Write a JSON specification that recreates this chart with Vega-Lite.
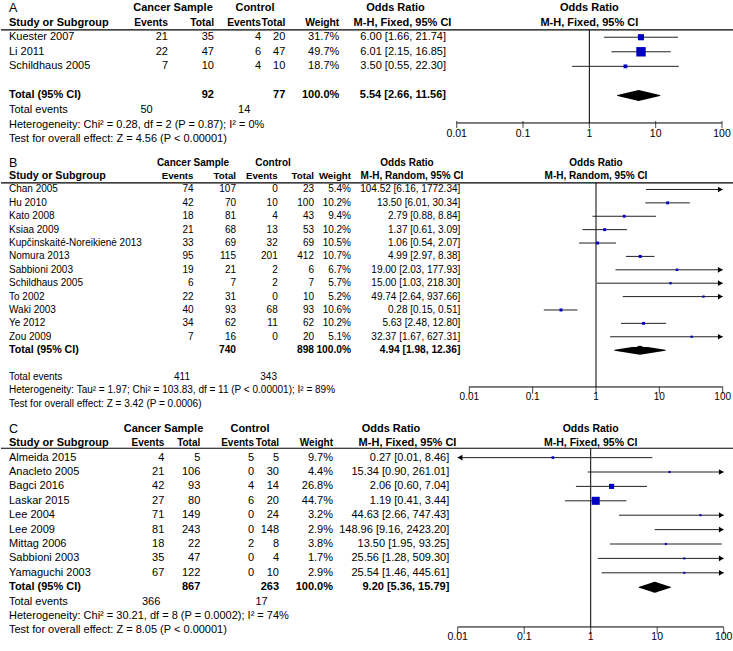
{
"$schema":"https://vega.github.io/schema/vega-lite/v6.json",
"padding":0,
"background":"white",
"spacing":0,
"config":{"view":{"stroke":null},"text":{"font":"Liberation Sans","fontSize":11,"color":"#000","baseline":"middle"}},
"resolve":{"scale":{"x":"independent","y":"independent","size":"independent"}},
"vconcat":[
{
"width":733,"height":150,
"data":{"values":[
{"line":"h1","study":"A","cs":"Cancer Sample","ct":"Control","orh1":"Odds Ratio","ph":"Odds Ratio"},
{"line":"h2","study":"Study or Subgroup","e1":"Events","n1":"Total","e2":"Events","n2":"Total","wt":"Weight","orh2":"M-H, Fixed, 95% CI","ph":"M-H, Fixed, 95% CI"},
{"study":"Kuester 2007","e1":21,"n1":35,"e2":4,"n2":20,"w":31.7,"or":6.00,"lo":1.66,"hi":21.74},
{"study":"Li 2011","e1":22,"n1":47,"e2":6,"n2":47,"w":49.7,"or":6.01,"lo":2.15,"hi":16.85},
{"study":"Schildhaus 2005","e1":7,"n1":10,"e2":4,"n2":10,"w":18.7,"or":3.50,"lo":0.55,"hi":22.30},
{"study":"Total (95% CI)","n1":92,"n2":77,"w":100,"or":5.54,"lo":2.66,"hi":11.56},
{"study":"Total events","te1":50,"te2":14},
{"line":"Het","study":"Heterogeneity: Chi² = 0.28, df = 2 (P = 0.87); I² = 0%"},
{"line":"Test","study":"Test for overall effect: Z = 4.56 (P < 0.00001)"}
]},
"transform":[
{"calculate":"isValid(datum.line) ? datum.line : datum.study","as":"key"},
{"calculate":"isValid(datum.w) ? format(datum.w,'.1f') + '%' : datum.wt","as":"wt"},
{"calculate":"isValid(datum.or) ? format(datum.or,'.2f') + ' [' + format(datum.lo,'.2f') + ', ' + format(datum.hi,'.2f') + ']' : null","as":"ortxt"}
],
"encoding":{"y":{"field":"key","type":"nominal","axis":null,"scale":{"type":"band","domain":["h1","h2","Kuester 2007","Li 2011","Schildhaus 2005","gap","Total (95% CI)","Total events","Het","Test"],"range":[0.82,146.42],"paddingInner":0,"paddingOuter":0}}},
"layer":[
{"layer":[
{"transform":[{"filter":"datum.key != 'h1' && datum.key != 'h2' && datum.key != 'Total (95% CI)'"}],"mark":{"type":"text","align":"left"},"encoding":{"x":{"datum":0,"type":"quantitative","axis":null,"scale":{"domain":[0,1,2,3,4,5,6,7,8,9,10,11,12],"range":[8,167,213,260,284.3,338.3,445,151.7,249.3,172,254,394.5,401.5],"nice":false,"zero":false}},"text":{"field":"study","type":"nominal"}}},
{"transform":[{"filter":"datum.key == 'h2' || datum.key == 'Total (95% CI)'"}],"mark":{"type":"text","align":"left","fontWeight":"bold"},"encoding":{"x":{"datum":0,"type":"quantitative","axis":null,"scale":{"domain":[0,1,2,3,4,5,6,7,8,9,10,11,12],"range":[8,167,213,260,284.3,338.3,445,151.7,249.3,172,254,394.5,401.5],"nice":false,"zero":false}},"text":{"field":"study","type":"nominal"}}},
{"transform":[{"filter":"datum.key == 'h1'"}],"mark":{"type":"text","align":"left","fontSize":12.5},"encoding":{"x":{"datum":0,"type":"quantitative","axis":null,"scale":{"domain":[0,1,2,3,4,5,6,7,8,9,10,11,12],"range":[8,167,213,260,284.3,338.3,445,151.7,249.3,172,254,394.5,401.5],"nice":false,"zero":false}},"text":{"field":"study","type":"nominal"}}},
{"transform":[{"fold":["e1","n1","e2","n2","wt","ortxt","te1","te2"],"as":["col","val"]},{"filter":"isValid(datum.val) && datum.key != 'h2' && datum.key != 'Total (95% CI)'"},{"calculate":"indexof(['study','e1','n1','e2','n2','wt','ortxt','te1','te2','cs','ct','orh1','orh2'], datum.col)","as":"ci"}],"mark":{"type":"text","align":"right"},"encoding":{"x":{"field":"ci","type":"quantitative","axis":null,"scale":{"domain":[0,1,2,3,4,5,6,7,8,9,10,11,12],"range":[8,167,213,260,284.3,338.3,445,151.7,249.3,172,254,394.5,401.5],"nice":false,"zero":false}},"text":{"field":"val","type":"nominal"}}},
{"transform":[{"fold":["e1","n1","e2","n2","wt","ortxt","te1","te2"],"as":["col","val"]},{"filter":"isValid(datum.val) && datum.key == 'h2'"},{"calculate":"indexof(['study','e1','n1','e2','n2','wt','ortxt','te1','te2','cs','ct','orh1','orh2'], datum.col)","as":"ci"}],"mark":{"type":"text","align":"right","fontWeight":"bold","fontSize":10.3},"encoding":{"x":{"field":"ci","type":"quantitative","axis":null,"scale":{"domain":[0,1,2,3,4,5,6,7,8,9,10,11,12],"range":[8,167,213,260,284.3,338.3,445,151.7,249.3,172,254,394.5,401.5],"nice":false,"zero":false}},"text":{"field":"val","type":"nominal"}}},
{"transform":[{"fold":["e1","n1","e2","n2","wt","ortxt","te1","te2"],"as":["col","val"]},{"filter":"isValid(datum.val) && datum.key == 'Total (95% CI)'"},{"calculate":"indexof(['study','e1','n1','e2','n2','wt','ortxt','te1','te2','cs','ct','orh1','orh2'], datum.col)","as":"ci"}],"mark":{"type":"text","align":"right","fontWeight":"bold"},"encoding":{"x":{"field":"ci","type":"quantitative","axis":null,"scale":{"domain":[0,1,2,3,4,5,6,7,8,9,10,11,12],"range":[8,167,213,260,284.3,338.3,445,151.7,249.3,172,254,394.5,401.5],"nice":false,"zero":false}},"text":{"field":"val","type":"nominal"}}},
{"transform":[{"fold":["cs","ct","orh1","orh2"],"as":["col","val"]},{"filter":"isValid(datum.val)"},{"calculate":"indexof(['study','e1','n1','e2','n2','wt','ortxt','te1','te2','cs','ct','orh1','orh2'], datum.col)","as":"ci"}],"mark":{"type":"text","align":"center","fontWeight":"bold"},"encoding":{"x":{"field":"ci","type":"quantitative","axis":null,"scale":{"domain":[0,1,2,3,4,5,6,7,8,9,10,11,12],"range":[8,167,213,260,284.3,338.3,445,151.7,249.3,172,254,394.5,401.5],"nice":false,"zero":false}},"text":{"field":"val","type":"nominal"}}}
]},
{"layer":[
{"data":{"values":[{}]},"mark":{"type":"rule","color":"#000","strokeWidth":1.2},"encoding":{"y":{"datum":"Kuester 2007","type":"nominal","bandPosition":0,"scale":{"type":"band","domain":["h1","h2","Kuester 2007","Li 2011","Schildhaus 2005","gap","Total (95% CI)","Total events","Het","Test"],"range":[0.82,146.42],"paddingInner":0,"paddingOuter":0}}}},
{"data":{"values":[{}]},"mark":{"type":"rule","color":"#000"},"encoding":{"x":{"datum":1,"type":"quantitative","axis":null,"scale":{"type":"log","domain":[0.01,100],"range":[455.7,721],"clamp":true,"nice":false}},"y":{"datum":"Kuester 2007","type":"nominal","bandPosition":0,"scale":{"type":"band","domain":["h1","h2","Kuester 2007","Li 2011","Schildhaus 2005","gap","Total (95% CI)","Total events","Het","Test"],"range":[0.82,146.42],"paddingInner":0,"paddingOuter":0}},"y2":{"datum":"Het","bandPosition":0.39}}},
{"data":{"values":[{}]},"mark":{"type":"rule","color":"#000"},"encoding":{"x":{"datum":0.01,"type":"quantitative","axis":null,"scale":{"type":"log","domain":[0.01,100],"range":[455.7,721],"clamp":true,"nice":false}},"x2":{"datum":100},"y":{"datum":"Het","type":"nominal","bandPosition":0.39,"scale":{"type":"band","domain":["h1","h2","Kuester 2007","Li 2011","Schildhaus 2005","gap","Total (95% CI)","Total events","Het","Test"],"range":[0.82,146.42],"paddingInner":0,"paddingOuter":0}}}},
{"data":{"values":[{"v":0.01},{"v":0.1},{"v":1},{"v":10},{"v":100}]},"mark":{"type":"tick","size":7,"thickness":1,"color":"#000","orient":"vertical"},"encoding":{"x":{"field":"v","type":"quantitative","axis":null,"scale":{"type":"log","domain":[0.01,100],"range":[455.7,721],"clamp":true,"nice":false}},"y":{"datum":"Het","type":"nominal","bandPosition":0.39,"scale":{"type":"band","domain":["h1","h2","Kuester 2007","Li 2011","Schildhaus 2005","gap","Total (95% CI)","Total events","Het","Test"],"range":[0.82,146.42],"paddingInner":0,"paddingOuter":0}}}},
{"data":{"values":[{"v":0.01},{"v":0.1},{"v":1},{"v":10},{"v":100}]},"mark":{"type":"text","align":"center","dy":9,"fontSize":10.5},"encoding":{"x":{"field":"v","type":"quantitative","axis":null,"scale":{"type":"log","domain":[0.01,100],"range":[455.7,721],"clamp":true,"nice":false}},"y":{"datum":"Het","type":"nominal","scale":{"type":"band","domain":["h1","h2","Kuester 2007","Li 2011","Schildhaus 2005","gap","Total (95% CI)","Total events","Het","Test"],"range":[0.82,146.42],"paddingInner":0,"paddingOuter":0}},"text":{"field":"v","type":"quantitative","format":"~g"}}},
{"transform":[{"filter":"isValid(datum.ph)"}],"mark":{"type":"text","align":"center","fontWeight":"bold"},"encoding":{"x":{"datum":1,"type":"quantitative","axis":null,"scale":{"type":"log","domain":[0.01,100],"range":[455.7,721],"clamp":true,"nice":false}},"text":{"field":"ph","type":"nominal"}}},
{"transform":[{"filter":"isValid(datum.or) && datum.key != 'Total (95% CI)'"}],"mark":{"type":"rule","color":"#222"},"encoding":{"x":{"field":"lo","type":"quantitative","axis":null,"scale":{"type":"log","domain":[0.01,100],"range":[455.7,721],"clamp":true,"nice":false}},"x2":{"field":"hi"}}},
{"transform":[{"filter":"isValid(datum.or) && datum.or <= 100 && datum.key != 'Total (95% CI)'"}],"mark":{"type":"point","shape":"square","filled":true,"color":"#0000c0","opacity":1},"encoding":{"x":{"field":"or","type":"quantitative","axis":null,"scale":{"type":"log","domain":[0.01,100],"range":[455.7,721],"clamp":true,"nice":false}},"size":{"field":"w","type":"quantitative","legend":null,"scale":{"type":"pow","exponent":2,"domain":[0,50],"range":[2,90]}}}},
{"transform":[{"filter":"isValid(datum.hi) && datum.hi > 100 && datum.key != 'Total (95% CI)'"}],"mark":{"type":"point","shape":"M-1,-0.6L0,0L-1,0.6Z","filled":true,"color":"#000","opacity":1,"size":90},"encoding":{"x":{"field":"hi","type":"quantitative","axis":null,"scale":{"type":"log","domain":[0.01,100],"range":[455.7,721],"clamp":true,"nice":false}}}},
{"transform":[{"filter":"isValid(datum.lo) && datum.lo <= 0.01 && datum.key != 'Total (95% CI)'"}],"mark":{"type":"point","shape":"M1,-0.6L0,0L1,0.6Z","filled":true,"color":"#000","opacity":1,"size":90},"encoding":{"x":{"field":"lo","type":"quantitative","axis":null,"scale":{"type":"log","domain":[0.01,100],"range":[455.7,721],"clamp":true,"nice":false}}}},
{"transform":[{"filter":"datum.key == 'Total (95% CI)'"},{"fold":["lo","or","hi"],"as":["pt","xv"]}],"mark":{"type":"trail","color":"#000"},"encoding":{"x":{"field":"xv","type":"quantitative","axis":null,"scale":{"type":"log","domain":[0.01,100],"range":[455.7,721],"clamp":true,"nice":false}},"size":{"condition":{"test":"datum.pt == 'or'","value":11},"value":0}}}
]}
],
"resolve":{"scale":{"x":"independent"}}
},
{
"width":733,"height":262,
"data":{"values":[
{"line":"h1","study":"B","cs":"Cancer Sample","ct":"Control","orh1":"Odds Ratio","ph":"Odds Ratio"},
{"line":"h2","study":"Study or Subgroup","e1":"Events","n1":"Total","e2":"Events","n2":"Total","wt":"Weight","orh2":"M-H, Random, 95% CI","ph":"M-H, Random, 95% CI"},
{"study":"Chan 2005","e1":74,"n1":107,"e2":0,"n2":23,"w":5.4,"or":104.52,"lo":6.16,"hi":1772.34},
{"study":"Hu 2010","e1":42,"n1":70,"e2":10,"n2":100,"w":10.2,"or":13.50,"lo":6.01,"hi":30.34},
{"study":"Kato 2008","e1":18,"n1":81,"e2":4,"n2":43,"w":9.4,"or":2.79,"lo":0.88,"hi":8.84},
{"study":"Ksiaa 2009","e1":21,"n1":68,"e2":13,"n2":53,"w":10.2,"or":1.37,"lo":0.61,"hi":3.09},
{"study":"Kupčinskaité-Noreikienė 2013","e1":33,"n1":69,"e2":32,"n2":69,"w":10.5,"or":1.06,"lo":0.54,"hi":2.07},
{"study":"Nomura 2013","e1":95,"n1":115,"e2":201,"n2":412,"w":10.7,"or":4.99,"lo":2.97,"hi":8.38},
{"study":"Sabbioni 2003","e1":19,"n1":21,"e2":2,"n2":6,"w":6.7,"or":19.00,"lo":2.03,"hi":177.93},
{"study":"Schildhaus 2005","e1":6,"n1":7,"e2":2,"n2":7,"w":5.7,"or":15.00,"lo":1.03,"hi":218.30},
{"study":"To 2002","e1":22,"n1":31,"e2":0,"n2":10,"w":5.2,"or":49.74,"lo":2.64,"hi":937.66},
{"study":"Waki 2003","e1":40,"n1":93,"e2":68,"n2":93,"w":10.6,"or":0.28,"lo":0.15,"hi":0.51},
{"study":"Ye 2012","e1":34,"n1":62,"e2":11,"n2":62,"w":10.2,"or":5.63,"lo":2.48,"hi":12.80},
{"study":"Zou 2009","e1":7,"n1":16,"e2":0,"n2":20,"w":5.1,"or":32.37,"lo":1.67,"hi":627.31},
{"study":"Total (95% CI)","n1":740,"n2":898,"w":100,"or":4.94,"lo":1.98,"hi":12.36},
{"study":"Total events","te1":411,"te2":343},
{"line":"Het","study":"Heterogeneity: Tau² = 1.97; Chi² = 103.83, df = 11 (P < 0.00001); I² = 89%"},
{"line":"Test","study":"Test for overall effect: Z = 3.42 (P = 0.0006)"}
]},
"transform":[
{"calculate":"isValid(datum.line) ? datum.line : datum.study","as":"key"},
{"calculate":"isValid(datum.w) ? format(datum.w,'.1f') + '%' : datum.wt","as":"wt"},
{"calculate":"isValid(datum.or) ? format(datum.or,'.2f') + ' [' + format(datum.lo,'.2f') + ', ' + format(datum.hi,'.2f') + ']' : null","as":"ortxt"}
],
"encoding":{"y":{"field":"key","type":"nominal","axis":null,"scale":{"type":"band","domain":["h1","h2","Chan 2005","Hu 2010","Kato 2008","Ksiaa 2009","Kupčinskaité-Noreikienė 2013","Nomura 2013","Sabbioni 2003","Schildhaus 2005","To 2002","Waki 2003","Ye 2012","Zou 2009","Total (95% CI)","gap","Total events","Het","Test"],"range":[6.0,260.4],"paddingInner":0,"paddingOuter":0}}},
"layer":[
{"layer":[
{"transform":[{"filter":"datum.key != 'h1' && datum.key != 'h2' && datum.key != 'Total (95% CI)'"}],"mark":{"type":"text","align":"left","fontSize":10},"encoding":{"x":{"datum":0,"type":"quantitative","axis":null,"scale":{"domain":[0,1,2,3,4,5,6,7,8,9,10,11,12],"range":[8,192.5,235,276.7,313,350,459.3,189,276,192,272,406,411],"nice":false,"zero":false}},"text":{"field":"study","type":"nominal"}}},
{"transform":[{"filter":"datum.key == 'h2' || datum.key == 'Total (95% CI)'"}],"mark":{"type":"text","align":"left","fontWeight":"bold","fontSize":10.7},"encoding":{"x":{"datum":0,"type":"quantitative","axis":null,"scale":{"domain":[0,1,2,3,4,5,6,7,8,9,10,11,12],"range":[8,192.5,235,276.7,313,350,459.3,189,276,192,272,406,411],"nice":false,"zero":false}},"text":{"field":"study","type":"nominal"}}},
{"transform":[{"filter":"datum.key == 'h1'"}],"mark":{"type":"text","align":"left","fontSize":12.5},"encoding":{"x":{"datum":0,"type":"quantitative","axis":null,"scale":{"domain":[0,1,2,3,4,5,6,7,8,9,10,11,12],"range":[8,192.5,235,276.7,313,350,459.3,189,276,192,272,406,411],"nice":false,"zero":false}},"text":{"field":"study","type":"nominal"}}},
{"transform":[{"fold":["e1","n1","e2","n2","wt","ortxt","te1","te2"],"as":["col","val"]},{"filter":"isValid(datum.val) && datum.key != 'h2' && datum.key != 'Total (95% CI)'"},{"calculate":"indexof(['study','e1','n1','e2','n2','wt','ortxt','te1','te2','cs','ct','orh1','orh2'], datum.col)","as":"ci"}],"mark":{"type":"text","align":"right","fontSize":10},"encoding":{"x":{"field":"ci","type":"quantitative","axis":null,"scale":{"domain":[0,1,2,3,4,5,6,7,8,9,10,11,12],"range":[8,192.5,235,276.7,313,350,459.3,189,276,192,272,406,411],"nice":false,"zero":false}},"text":{"field":"val","type":"nominal"}}},
{"transform":[{"fold":["e1","n1","e2","n2","wt","ortxt","te1","te2"],"as":["col","val"]},{"filter":"isValid(datum.val) && datum.key == 'h2'"},{"calculate":"indexof(['study','e1','n1','e2','n2','wt','ortxt','te1','te2','cs','ct','orh1','orh2'], datum.col)","as":"ci"}],"mark":{"type":"text","align":"right","fontWeight":"bold","fontSize":9.7},"encoding":{"x":{"field":"ci","type":"quantitative","axis":null,"scale":{"domain":[0,1,2,3,4,5,6,7,8,9,10,11,12],"range":[8,192.5,235,276.7,313,350,459.3,189,276,192,272,406,411],"nice":false,"zero":false}},"text":{"field":"val","type":"nominal"}}},
{"transform":[{"fold":["e1","n1","e2","n2","wt","ortxt","te1","te2"],"as":["col","val"]},{"filter":"isValid(datum.val) && datum.key == 'Total (95% CI)'"},{"calculate":"indexof(['study','e1','n1','e2','n2','wt','ortxt','te1','te2','cs','ct','orh1','orh2'], datum.col)","as":"ci"}],"mark":{"type":"text","align":"right","fontWeight":"bold","fontSize":10.2},"encoding":{"x":{"field":"ci","type":"quantitative","axis":null,"scale":{"domain":[0,1,2,3,4,5,6,7,8,9,10,11,12],"range":[8,192.5,235,276.7,313,350,459.3,189,276,192,272,406,411],"nice":false,"zero":false}},"text":{"field":"val","type":"nominal"}}},
{"transform":[{"fold":["cs","ct","orh1","orh2"],"as":["col","val"]},{"filter":"isValid(datum.val)"},{"calculate":"indexof(['study','e1','n1','e2','n2','wt','ortxt','te1','te2','cs','ct','orh1','orh2'], datum.col)","as":"ci"}],"mark":{"type":"text","align":"center","fontWeight":"bold","fontSize":10},"encoding":{"x":{"field":"ci","type":"quantitative","axis":null,"scale":{"domain":[0,1,2,3,4,5,6,7,8,9,10,11,12],"range":[8,192.5,235,276.7,313,350,459.3,189,276,192,272,406,411],"nice":false,"zero":false}},"text":{"field":"val","type":"nominal"}}}
]},
{"layer":[
{"data":{"values":[{}]},"mark":{"type":"rule","color":"#000","strokeWidth":1.2},"encoding":{"y":{"datum":"Chan 2005","type":"nominal","bandPosition":0,"scale":{"type":"band","domain":["h1","h2","Chan 2005","Hu 2010","Kato 2008","Ksiaa 2009","Kupčinskaité-Noreikienė 2013","Nomura 2013","Sabbioni 2003","Schildhaus 2005","To 2002","Waki 2003","Ye 2012","Zou 2009","Total (95% CI)","gap","Total events","Het","Test"],"range":[6.0,260.4],"paddingInner":0,"paddingOuter":0}}}},
{"data":{"values":[{}]},"mark":{"type":"rule","color":"#000"},"encoding":{"x":{"datum":1,"type":"quantitative","axis":null,"scale":{"type":"log","domain":[0.01,100],"range":[468.3,721.7],"clamp":true,"nice":false}},"y":{"datum":"Chan 2005","type":"nominal","bandPosition":0,"scale":{"type":"band","domain":["h1","h2","Chan 2005","Hu 2010","Kato 2008","Ksiaa 2009","Kupčinskaité-Noreikienė 2013","Nomura 2013","Sabbioni 2003","Schildhaus 2005","To 2002","Waki 2003","Ye 2012","Zou 2009","Total (95% CI)","gap","Total events","Het","Test"],"range":[6.0,260.4],"paddingInner":0,"paddingOuter":0}},"y2":{"datum":"Het","bandPosition":0.25}}},
{"data":{"values":[{}]},"mark":{"type":"rule","color":"#000"},"encoding":{"x":{"datum":0.01,"type":"quantitative","axis":null,"scale":{"type":"log","domain":[0.01,100],"range":[468.3,721.7],"clamp":true,"nice":false}},"x2":{"datum":100},"y":{"datum":"Het","type":"nominal","bandPosition":0.25,"scale":{"type":"band","domain":["h1","h2","Chan 2005","Hu 2010","Kato 2008","Ksiaa 2009","Kupčinskaité-Noreikienė 2013","Nomura 2013","Sabbioni 2003","Schildhaus 2005","To 2002","Waki 2003","Ye 2012","Zou 2009","Total (95% CI)","gap","Total events","Het","Test"],"range":[6.0,260.4],"paddingInner":0,"paddingOuter":0}}}},
{"data":{"values":[{"v":0.01},{"v":0.1},{"v":1},{"v":10},{"v":100}]},"mark":{"type":"tick","size":7,"thickness":1,"color":"#000","orient":"vertical"},"encoding":{"x":{"field":"v","type":"quantitative","axis":null,"scale":{"type":"log","domain":[0.01,100],"range":[468.3,721.7],"clamp":true,"nice":false}},"y":{"datum":"Het","type":"nominal","bandPosition":0.25,"scale":{"type":"band","domain":["h1","h2","Chan 2005","Hu 2010","Kato 2008","Ksiaa 2009","Kupčinskaité-Noreikienė 2013","Nomura 2013","Sabbioni 2003","Schildhaus 2005","To 2002","Waki 2003","Ye 2012","Zou 2009","Total (95% CI)","gap","Total events","Het","Test"],"range":[6.0,260.4],"paddingInner":0,"paddingOuter":0}}}},
{"data":{"values":[{"v":0.01},{"v":0.1},{"v":1},{"v":10},{"v":100}]},"mark":{"type":"text","align":"center","dy":7,"fontSize":10},"encoding":{"x":{"field":"v","type":"quantitative","axis":null,"scale":{"type":"log","domain":[0.01,100],"range":[468.3,721.7],"clamp":true,"nice":false}},"y":{"datum":"Het","type":"nominal","scale":{"type":"band","domain":["h1","h2","Chan 2005","Hu 2010","Kato 2008","Ksiaa 2009","Kupčinskaité-Noreikienė 2013","Nomura 2013","Sabbioni 2003","Schildhaus 2005","To 2002","Waki 2003","Ye 2012","Zou 2009","Total (95% CI)","gap","Total events","Het","Test"],"range":[6.0,260.4],"paddingInner":0,"paddingOuter":0}},"text":{"field":"v","type":"quantitative","format":"~g"}}},
{"transform":[{"filter":"isValid(datum.ph)"}],"mark":{"type":"text","align":"center","fontWeight":"bold","fontSize":10},"encoding":{"x":{"datum":1,"type":"quantitative","axis":null,"scale":{"type":"log","domain":[0.01,100],"range":[468.3,721.7],"clamp":true,"nice":false}},"text":{"field":"ph","type":"nominal"}}},
{"transform":[{"filter":"isValid(datum.or) && datum.key != 'Total (95% CI)'"}],"mark":{"type":"rule","color":"#222"},"encoding":{"x":{"field":"lo","type":"quantitative","axis":null,"scale":{"type":"log","domain":[0.01,100],"range":[468.3,721.7],"clamp":true,"nice":false}},"x2":{"field":"hi"}}},
{"transform":[{"filter":"isValid(datum.or) && datum.or <= 100 && datum.key != 'Total (95% CI)'"}],"mark":{"type":"point","shape":"square","filled":true,"color":"#0000c0","opacity":1},"encoding":{"x":{"field":"or","type":"quantitative","axis":null,"scale":{"type":"log","domain":[0.01,100],"range":[468.3,721.7],"clamp":true,"nice":false}},"size":{"field":"w","type":"quantitative","legend":null,"scale":{"type":"pow","exponent":2,"domain":[0,50],"range":[4,113]}}}},
{"transform":[{"filter":"isValid(datum.hi) && datum.hi > 100 && datum.key != 'Total (95% CI)'"}],"mark":{"type":"point","shape":"M-1,-0.6L0,0L-1,0.6Z","filled":true,"color":"#000","opacity":1,"size":90},"encoding":{"x":{"field":"hi","type":"quantitative","axis":null,"scale":{"type":"log","domain":[0.01,100],"range":[468.3,721.7],"clamp":true,"nice":false}}}},
{"transform":[{"filter":"isValid(datum.lo) && datum.lo <= 0.01 && datum.key != 'Total (95% CI)'"}],"mark":{"type":"point","shape":"M1,-0.6L0,0L1,0.6Z","filled":true,"color":"#000","opacity":1,"size":90},"encoding":{"x":{"field":"lo","type":"quantitative","axis":null,"scale":{"type":"log","domain":[0.01,100],"range":[468.3,721.7],"clamp":true,"nice":false}}}},
{"transform":[{"filter":"datum.key == 'Total (95% CI)'"},{"fold":["lo","or","hi"],"as":["pt","xv"]}],"mark":{"type":"trail","color":"#000"},"encoding":{"x":{"field":"xv","type":"quantitative","axis":null,"scale":{"type":"log","domain":[0.01,100],"range":[468.3,721.7],"clamp":true,"nice":false}},"size":{"condition":{"test":"datum.pt == 'or'","value":9},"value":0}}}
]}
],
"resolve":{"scale":{"x":"independent"}}
},
{
"width":733,"height":239,
"data":{"values":[
{"line":"h1","study":"C","cs":"Cancer Sample","ct":"Control","orh1":"Odds Ratio","ph":"Odds Ratio"},
{"line":"h2","study":"Study or Subgroup","e1":"Events","n1":"Total","e2":"Events","n2":"Total","wt":"Weight","orh2":"M-H, Fixed, 95% CI","ph":"M-H, Fixed, 95% CI"},
{"study":"Almeida 2015","e1":4,"n1":5,"e2":5,"n2":5,"w":9.7,"or":0.27,"lo":0.01,"hi":8.46},
{"study":"Anacleto 2005","e1":21,"n1":106,"e2":0,"n2":30,"w":4.4,"or":15.34,"lo":0.90,"hi":261.01},
{"study":"Bagci 2016","e1":42,"n1":93,"e2":4,"n2":14,"w":26.8,"or":2.06,"lo":0.60,"hi":7.04},
{"study":"Laskar 2015","e1":27,"n1":80,"e2":6,"n2":20,"w":44.7,"or":1.19,"lo":0.41,"hi":3.44},
{"study":"Lee 2004","e1":71,"n1":149,"e2":0,"n2":24,"w":3.2,"or":44.63,"lo":2.66,"hi":747.43},
{"study":"Lee 2009","e1":81,"n1":243,"e2":0,"n2":148,"w":2.9,"or":148.96,"lo":9.16,"hi":2423.20},
{"study":"Mittag 2006","e1":18,"n1":22,"e2":2,"n2":8,"w":3.8,"or":13.50,"lo":1.95,"hi":93.25},
{"study":"Sabbioni 2003","e1":35,"n1":47,"e2":0,"n2":4,"w":1.7,"or":25.56,"lo":1.28,"hi":509.30},
{"study":"Yamaguchi 2003","e1":67,"n1":122,"e2":0,"n2":10,"w":2.9,"or":25.54,"lo":1.46,"hi":445.61},
{"study":"Total (95% CI)","n1":867,"n2":263,"w":100,"or":9.20,"lo":5.36,"hi":15.79},
{"study":"Total events","te1":366,"te2":17},
{"line":"Het","study":"Heterogeneity: Chi² = 30.21, df = 8 (P = 0.0002); I² = 74%"},
{"line":"Test","study":"Test for overall effect: Z = 8.05 (P < 0.00001)"}
]},
"transform":[
{"calculate":"isValid(datum.line) ? datum.line : datum.study","as":"key"},
{"calculate":"isValid(datum.w) ? format(datum.w,'.1f') + '%' : datum.wt","as":"wt"},
{"calculate":"isValid(datum.or) ? format(datum.or,'.2f') + ' [' + format(datum.lo,'.2f') + ', ' + format(datum.hi,'.2f') + ']' : null","as":"ortxt"}
],
"encoding":{"y":{"field":"key","type":"nominal","axis":null,"scale":{"type":"band","domain":["h1","h2","Almeida 2015","Anacleto 2005","Bagci 2016","Laskar 2015","Lee 2004","Lee 2009","Mittag 2006","Sabbioni 2003","Yamaguchi 2003","Total (95% CI)","Total events","Het","Test"],"range":[9.6,225.6],"paddingInner":0,"paddingOuter":0}}},
"layer":[
{"layer":[
{"transform":[{"filter":"datum.key != 'h1' && datum.key != 'h2' && datum.key != 'Total (95% CI)'"}],"mark":{"type":"text","align":"left"},"encoding":{"x":{"datum":0,"type":"quantitative","axis":null,"scale":{"domain":[0,1,2,3,4,5,6,7,8,9,10,11,12],"range":[8,163.3,199.3,253,278,332,448.3,159.3,266.7,162.5,249,390,406.5],"nice":false,"zero":false}},"text":{"field":"study","type":"nominal"}}},
{"transform":[{"filter":"datum.key == 'h2' || datum.key == 'Total (95% CI)'"}],"mark":{"type":"text","align":"left","fontWeight":"bold"},"encoding":{"x":{"datum":0,"type":"quantitative","axis":null,"scale":{"domain":[0,1,2,3,4,5,6,7,8,9,10,11,12],"range":[8,163.3,199.3,253,278,332,448.3,159.3,266.7,162.5,249,390,406.5],"nice":false,"zero":false}},"text":{"field":"study","type":"nominal"}}},
{"transform":[{"filter":"datum.key == 'h1'"}],"mark":{"type":"text","align":"left","fontSize":12.5},"encoding":{"x":{"datum":0,"type":"quantitative","axis":null,"scale":{"domain":[0,1,2,3,4,5,6,7,8,9,10,11,12],"range":[8,163.3,199.3,253,278,332,448.3,159.3,266.7,162.5,249,390,406.5],"nice":false,"zero":false}},"text":{"field":"study","type":"nominal"}}},
{"transform":[{"fold":["e1","n1","e2","n2","wt","ortxt","te1","te2"],"as":["col","val"]},{"filter":"isValid(datum.val) && datum.key != 'h2' && datum.key != 'Total (95% CI)'"},{"calculate":"indexof(['study','e1','n1','e2','n2','wt','ortxt','te1','te2','cs','ct','orh1','orh2'], datum.col)","as":"ci"}],"mark":{"type":"text","align":"right"},"encoding":{"x":{"field":"ci","type":"quantitative","axis":null,"scale":{"domain":[0,1,2,3,4,5,6,7,8,9,10,11,12],"range":[8,163.3,199.3,253,278,332,448.3,159.3,266.7,162.5,249,390,406.5],"nice":false,"zero":false}},"text":{"field":"val","type":"nominal"}}},
{"transform":[{"fold":["e1","n1","e2","n2","wt","ortxt","te1","te2"],"as":["col","val"]},{"filter":"isValid(datum.val) && datum.key == 'h2'"},{"calculate":"indexof(['study','e1','n1','e2','n2','wt','ortxt','te1','te2','cs','ct','orh1','orh2'], datum.col)","as":"ci"}],"mark":{"type":"text","align":"right","fontWeight":"bold","fontSize":10},"encoding":{"x":{"field":"ci","type":"quantitative","axis":null,"scale":{"domain":[0,1,2,3,4,5,6,7,8,9,10,11,12],"range":[8,163.3,199.3,253,278,332,448.3,159.3,266.7,162.5,249,390,406.5],"nice":false,"zero":false}},"text":{"field":"val","type":"nominal"}}},
{"transform":[{"fold":["e1","n1","e2","n2","wt","ortxt","te1","te2"],"as":["col","val"]},{"filter":"isValid(datum.val) && datum.key == 'Total (95% CI)'"},{"calculate":"indexof(['study','e1','n1','e2','n2','wt','ortxt','te1','te2','cs','ct','orh1','orh2'], datum.col)","as":"ci"}],"mark":{"type":"text","align":"right","fontWeight":"bold"},"encoding":{"x":{"field":"ci","type":"quantitative","axis":null,"scale":{"domain":[0,1,2,3,4,5,6,7,8,9,10,11,12],"range":[8,163.3,199.3,253,278,332,448.3,159.3,266.7,162.5,249,390,406.5],"nice":false,"zero":false}},"text":{"field":"val","type":"nominal"}}},
{"transform":[{"fold":["cs","ct","orh1","orh2"],"as":["col","val"]},{"filter":"isValid(datum.val)"},{"calculate":"indexof(['study','e1','n1','e2','n2','wt','ortxt','te1','te2','cs','ct','orh1','orh2'], datum.col)","as":"ci"}],"mark":{"type":"text","align":"center","fontWeight":"bold"},"encoding":{"x":{"field":"ci","type":"quantitative","axis":null,"scale":{"domain":[0,1,2,3,4,5,6,7,8,9,10,11,12],"range":[8,163.3,199.3,253,278,332,448.3,159.3,266.7,162.5,249,390,406.5],"nice":false,"zero":false}},"text":{"field":"val","type":"nominal"}}}
]},
{"layer":[
{"data":{"values":[{}]},"mark":{"type":"rule","color":"#000","strokeWidth":1.2},"encoding":{"y":{"datum":"Almeida 2015","type":"nominal","bandPosition":-0.15,"scale":{"type":"band","domain":["h1","h2","Almeida 2015","Anacleto 2005","Bagci 2016","Laskar 2015","Lee 2004","Lee 2009","Mittag 2006","Sabbioni 2003","Yamaguchi 2003","Total (95% CI)","Total events","Het","Test"],"range":[9.6,225.6],"paddingInner":0,"paddingOuter":0}}}},
{"data":{"values":[{}]},"mark":{"type":"rule","color":"#000"},"encoding":{"x":{"datum":1,"type":"quantitative","axis":null,"scale":{"type":"log","domain":[0.01,100],"range":[456.7,722.7],"clamp":true,"nice":false}},"y":{"datum":"Almeida 2015","type":"nominal","bandPosition":-0.15,"scale":{"type":"band","domain":["h1","h2","Almeida 2015","Anacleto 2005","Bagci 2016","Laskar 2015","Lee 2004","Lee 2009","Mittag 2006","Sabbioni 2003","Yamaguchi 2003","Total (95% CI)","Total events","Het","Test"],"range":[9.6,225.6],"paddingInner":0,"paddingOuter":0}},"y2":{"datum":"Test","bandPosition":0.26}}},
{"data":{"values":[{}]},"mark":{"type":"rule","color":"#000"},"encoding":{"x":{"datum":0.01,"type":"quantitative","axis":null,"scale":{"type":"log","domain":[0.01,100],"range":[456.7,722.7],"clamp":true,"nice":false}},"x2":{"datum":100},"y":{"datum":"Test","type":"nominal","bandPosition":0.26,"scale":{"type":"band","domain":["h1","h2","Almeida 2015","Anacleto 2005","Bagci 2016","Laskar 2015","Lee 2004","Lee 2009","Mittag 2006","Sabbioni 2003","Yamaguchi 2003","Total (95% CI)","Total events","Het","Test"],"range":[9.6,225.6],"paddingInner":0,"paddingOuter":0}}}},
{"data":{"values":[{"v":0.01},{"v":0.1},{"v":1},{"v":10},{"v":100}]},"mark":{"type":"tick","size":7,"thickness":1,"color":"#000","orient":"vertical"},"encoding":{"x":{"field":"v","type":"quantitative","axis":null,"scale":{"type":"log","domain":[0.01,100],"range":[456.7,722.7],"clamp":true,"nice":false}},"y":{"datum":"Test","type":"nominal","bandPosition":0.26,"scale":{"type":"band","domain":["h1","h2","Almeida 2015","Anacleto 2005","Bagci 2016","Laskar 2015","Lee 2004","Lee 2009","Mittag 2006","Sabbioni 2003","Yamaguchi 2003","Total (95% CI)","Total events","Het","Test"],"range":[9.6,225.6],"paddingInner":0,"paddingOuter":0}}}},
{"data":{"values":[{"v":0.01},{"v":0.1},{"v":1},{"v":10},{"v":100}]},"mark":{"type":"text","align":"center","dy":7,"fontSize":10.5},"encoding":{"x":{"field":"v","type":"quantitative","axis":null,"scale":{"type":"log","domain":[0.01,100],"range":[456.7,722.7],"clamp":true,"nice":false}},"y":{"datum":"Test","type":"nominal","scale":{"type":"band","domain":["h1","h2","Almeida 2015","Anacleto 2005","Bagci 2016","Laskar 2015","Lee 2004","Lee 2009","Mittag 2006","Sabbioni 2003","Yamaguchi 2003","Total (95% CI)","Total events","Het","Test"],"range":[9.6,225.6],"paddingInner":0,"paddingOuter":0}},"text":{"field":"v","type":"quantitative","format":"~g"}}},
{"transform":[{"filter":"isValid(datum.ph)"}],"mark":{"type":"text","align":"center","fontWeight":"bold","fontSize":10.5},"encoding":{"x":{"datum":1,"type":"quantitative","axis":null,"scale":{"type":"log","domain":[0.01,100],"range":[456.7,722.7],"clamp":true,"nice":false}},"text":{"field":"ph","type":"nominal"}}},
{"transform":[{"filter":"isValid(datum.or) && datum.key != 'Total (95% CI)'"}],"mark":{"type":"rule","color":"#222"},"encoding":{"x":{"field":"lo","type":"quantitative","axis":null,"scale":{"type":"log","domain":[0.01,100],"range":[456.7,722.7],"clamp":true,"nice":false}},"x2":{"field":"hi"}}},
{"transform":[{"filter":"isValid(datum.or) && datum.or <= 100 && datum.key != 'Total (95% CI)'"}],"mark":{"type":"point","shape":"square","filled":true,"color":"#0000c0","opacity":1},"encoding":{"x":{"field":"or","type":"quantitative","axis":null,"scale":{"type":"log","domain":[0.01,100],"range":[456.7,722.7],"clamp":true,"nice":false}},"size":{"field":"w","type":"quantitative","legend":null,"scale":{"type":"pow","exponent":2,"domain":[0,50],"range":[4,80]}}}},
{"transform":[{"filter":"isValid(datum.hi) && datum.hi > 100 && datum.key != 'Total (95% CI)'"}],"mark":{"type":"point","shape":"M-1,-0.6L0,0L-1,0.6Z","filled":true,"color":"#000","opacity":1,"size":90},"encoding":{"x":{"field":"hi","type":"quantitative","axis":null,"scale":{"type":"log","domain":[0.01,100],"range":[456.7,722.7],"clamp":true,"nice":false}}}},
{"transform":[{"filter":"isValid(datum.lo) && datum.lo <= 0.01 && datum.key != 'Total (95% CI)'"}],"mark":{"type":"point","shape":"M1,-0.6L0,0L1,0.6Z","filled":true,"color":"#000","opacity":1,"size":90},"encoding":{"x":{"field":"lo","type":"quantitative","axis":null,"scale":{"type":"log","domain":[0.01,100],"range":[456.7,722.7],"clamp":true,"nice":false}}}},
{"transform":[{"filter":"datum.key == 'Total (95% CI)'"},{"fold":["lo","or","hi"],"as":["pt","xv"]}],"mark":{"type":"trail","color":"#000"},"encoding":{"x":{"field":"xv","type":"quantitative","axis":null,"scale":{"type":"log","domain":[0.01,100],"range":[456.7,722.7],"clamp":true,"nice":false}},"size":{"condition":{"test":"datum.pt == 'or'","value":11},"value":0}}}
]}
],
"resolve":{"scale":{"x":"independent"}}
}
]
}
